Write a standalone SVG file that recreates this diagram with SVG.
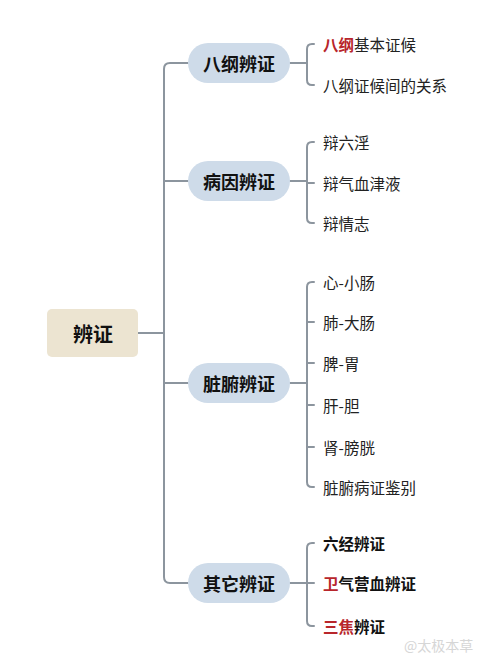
<svg xmlns="http://www.w3.org/2000/svg" width="500" height="666" viewBox="0 0 500 666">
<style>
.ln{fill:none;stroke:#8c959e;stroke-width:2;stroke-linecap:round}
.pill{fill:#cedbe9}
.root{fill:#ece4d1}
text{font-family:"Noto Sans CJK SC","Noto Sans",sans-serif;dominant-baseline:central;fill:#222}
.l1{font-size:18px;font-weight:bold;text-anchor:middle;fill:#111}
.l0{font-size:20px;font-weight:bold;text-anchor:middle;fill:#111}
.l2{font-size:15.5px}
.b{font-weight:bold;fill:#111}
.r{fill:#b8262b;font-weight:bold}
.wm{font-size:14px;fill:#d6d6d6}
</style>
<rect width="500" height="666" fill="#ffffff"/>
<g id="connectors">
<path class="ln" d="M138,333 H164"/>
<path class="ln" d="M188,63 H170 Q164,63 164,69 V577 Q164,583 170,583 H188"/>
<path class="ln" d="M164,181 H188"/>
<path class="ln" d="M164,383 H188"/>
<path class="ln" d="M290,63 H307"/>
<path class="ln" d="M314,44 H312 Q307,44 307,49 V80 Q307,85 312,85 H314"/>
<path class="ln" d="M290,181 H307"/>
<path class="ln" d="M314,142 H312 Q307,142 307,147 V218 Q307,223 312,223 H314"/>
<path class="ln" d="M307,183 H314"/>
<path class="ln" d="M290,383 H307"/>
<path class="ln" d="M314,282 H312 Q307,282 307,287 V482 Q307,487 312,487 H314"/>
<path class="ln" d="M307,322 H314 M307,363 H314 M307,405 H314 M307,447 H314"/>
<path class="ln" d="M290,583 H307"/>
<path class="ln" d="M314,543 H312 Q307,543 307,548 V621 Q307,626 312,626 H314"/>
<path class="ln" d="M307,583 H314"/>
</g>
<g id="root"><rect class="root" x="47" y="309" width="91" height="48" rx="5"/><text class="l0" x="93" y="333">辨证</text></g>
<g id="n1"><rect class="pill" x="188" y="43" width="102" height="40" rx="20"/><text class="l1" x="239" y="63">八纲辨证</text></g>
<g id="n2"><rect class="pill" x="188" y="161" width="102" height="40" rx="20"/><text class="l1" x="239" y="181">病因辨证</text></g>
<g id="n3"><rect class="pill" x="188" y="363" width="102" height="40" rx="20"/><text class="l1" x="239" y="383">脏腑辨证</text></g>
<g id="n4"><rect class="pill" x="188" y="563" width="102" height="40" rx="20"/><text class="l1" x="239" y="583">其它辨证</text></g>
<g id="c1a"><text class="l2" x="323" y="44"><tspan class="r">八纲</tspan>基本证候</text></g>
<g id="c1b"><text class="l2" x="323" y="85">八纲证候间的关系</text></g>
<g id="c2a"><text class="l2" x="323" y="142">辩六淫</text></g>
<g id="c2b"><text class="l2" x="323" y="183">辩气血津液</text></g>
<g id="c2c"><text class="l2" x="323" y="223">辩情志</text></g>
<g id="c3a"><text class="l2" x="323" y="282">心-小肠</text></g>
<g id="c3b"><text class="l2" x="323" y="322">肺-大肠</text></g>
<g id="c3c"><text class="l2" x="323" y="363">脾-胃</text></g>
<g id="c3d"><text class="l2" x="323" y="405">肝-胆</text></g>
<g id="c3e"><text class="l2" x="323" y="447">肾-膀胱</text></g>
<g id="c3f"><text class="l2" x="323" y="487">脏腑病证鉴别</text></g>
<g id="c4a"><text class="l2 b" x="323" y="543">六经辨证</text></g>
<g id="c4b"><text class="l2 b" x="323" y="583"><tspan class="r">卫</tspan>气营血辨证</text></g>
<g id="c4c"><text class="l2 b" x="323" y="626"><tspan class="r">三焦</tspan>辨证</text></g>
<text class="wm" x="404" y="645">@太极本草</text>
</svg>
